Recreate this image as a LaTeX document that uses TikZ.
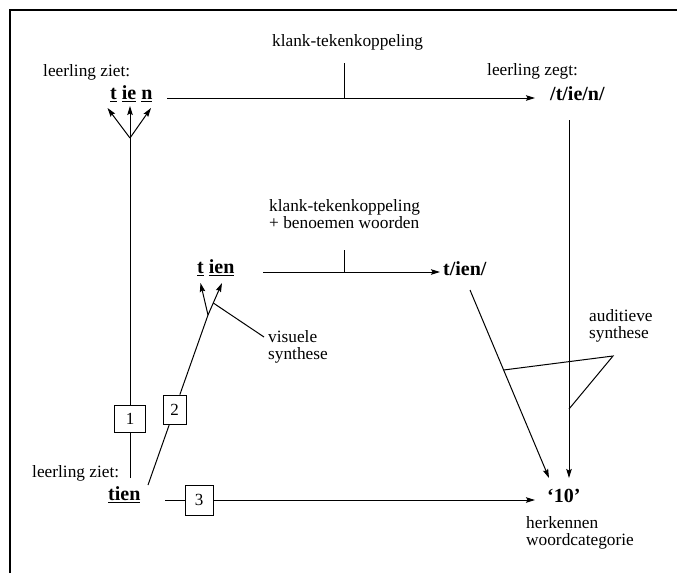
\documentclass[tikz,border=0pt]{standalone}
\usepackage{fontspec}
\setmainfont{Liberation Serif}
\usetikzlibrary{arrows.meta}
\newcommand{\myul}[1]{\setbox0\hbox{#1}\rlap{\rule[-3.2pt]{\wd0}{1.4pt}}\box0\relax}
\begin{document}
\begin{tikzpicture}[x=1pt,y=-1pt,
  lbl/.style={inner sep=0pt, font=\fontsize{17.3}{17}\selectfont, anchor=base west},
  lbltwo/.style={lbl, align=left},
  wrd/.style={inner sep=0pt, font=\fontsize{20}{22}\selectfont\bfseries, anchor=base west},
  conn/.style={line width=1pt},
  arr/.style={conn, -{Stealth[length=9pt,width=5.5pt,inset=1.5pt]}},
  numbox/.style={draw, line width=0.8pt, fill=white, inner sep=0pt, font=\fontsize{17}{17}\selectfont},
  frameline/.style={line width=2pt}
]
\useasboundingbox (0,0) rectangle (677,573);
% frame
\draw[frameline] (10,573) -- (10,10) -- (677,10);

% texts
\node[lbl] (kt1) at (272,46) {klank-tekenkoppeling};
\node[lbl] (ziet1) at (43,76) {leerling ziet:};
\node[wrd] (tientop) at (110,99) {\myul{t} \myul{ie} \myul{n}};
\node[lbl] (zegt) at (487,75) {leerling zegt:};
\node[wrd] (tienph) at (550,100) {/t/ie/n/};
\node[lbltwo] (kt2) at (269,228) {klank-tekenkoppeling\\+ benoemen woorden};
\node[wrd] (tienmid) at (197,273) {\myul{t} \myul{ien}};
\node[wrd] (tienph2) at (443,275) {t/ien/};
\node[lbltwo] (vis) at (268,359) {visuele\\synthese};
\node[lbltwo] (aud) at (589,338) {auditieve\\synthese};
\node[lbl] (ziet2) at (32,477) {leerling ziet:};
\node[wrd] (tienbot) at (108,500) {\myul{tien}};
\node[wrd] (ten) at (547,502) {‘10’};
\node[lbltwo] (herk) at (526,545) {herkennen\\woordcategorie};

% numbered boxes
\node[numbox, minimum width=31pt, minimum height=27pt] (box1) at (130,418.5) {1};
\node[numbox, minimum width=23pt, minimum height=29pt] (box2) at (174.6,409.5) {2};
\node[numbox, minimum width=28pt, minimum height=30pt] (box3) at (199,500) {3};

% coordinates
\coordinate (f1) at (130,138);
\coordinate (l1s) at (130,478);
\coordinate (a1) at (107.5,108);
\coordinate (a2) at (130,106);
\coordinate (a3) at (151,108);
\coordinate (h1s) at (167,98);
\coordinate (h1e) at (535,98);
\coordinate (tick1) at (344,63);
\coordinate (f2) at (208,315);
\coordinate (b2s) at (148,485);
\coordinate (a4) at (200.5,283);
\coordinate (a5) at (222,283);
\coordinate (vp) at (213.3,303);
\coordinate (vq) at (264,337);
\coordinate (h2s) at (263,272);
\coordinate (h2e) at (440,272);
\coordinate (tick2) at (344,250);
\coordinate (d1s) at (470,290);
\coordinate (d1e) at (549,478);
\coordinate (v2s) at (569,120);
\coordinate (v2e) at (569,478);
\coordinate (ap) at (503.6,370);
\coordinate (aq) at (613,356);
\coordinate (ar) at (569,409);
\coordinate (h3s) at (165,500);
\coordinate (h3e) at (535,500);

% connectors
\draw[conn] (l1s) -- (box1) -- (f1);
\draw[arr] (f1) -- (a1);
\draw[arr] (f1) -- (a2);
\draw[arr] (f1) -- (a3);
\draw[arr] (h1s) -- (h1e);
\draw[conn] (tick1) -- (tick1 |- h1s);

\draw[conn] (b2s) -- (box2) -- (f2);
\draw[arr] (f2) -- (a4);
\draw[arr] (f2) -- (a5);
\draw[conn] (vp) -- (vq);
\draw[arr] (h2s) -- (h2e);
\draw[conn] (tick2) -- (tick2 |- h2s);

\draw[arr] (d1s) -- (d1e);
\draw[arr] (v2s) -- (v2e);
\draw[conn] (ap) -- (aq) -- (ar);

\draw[conn] (h3s) -- (box3);
\draw[arr] (box3) -- (h3e);
\end{tikzpicture}
\end{document}
